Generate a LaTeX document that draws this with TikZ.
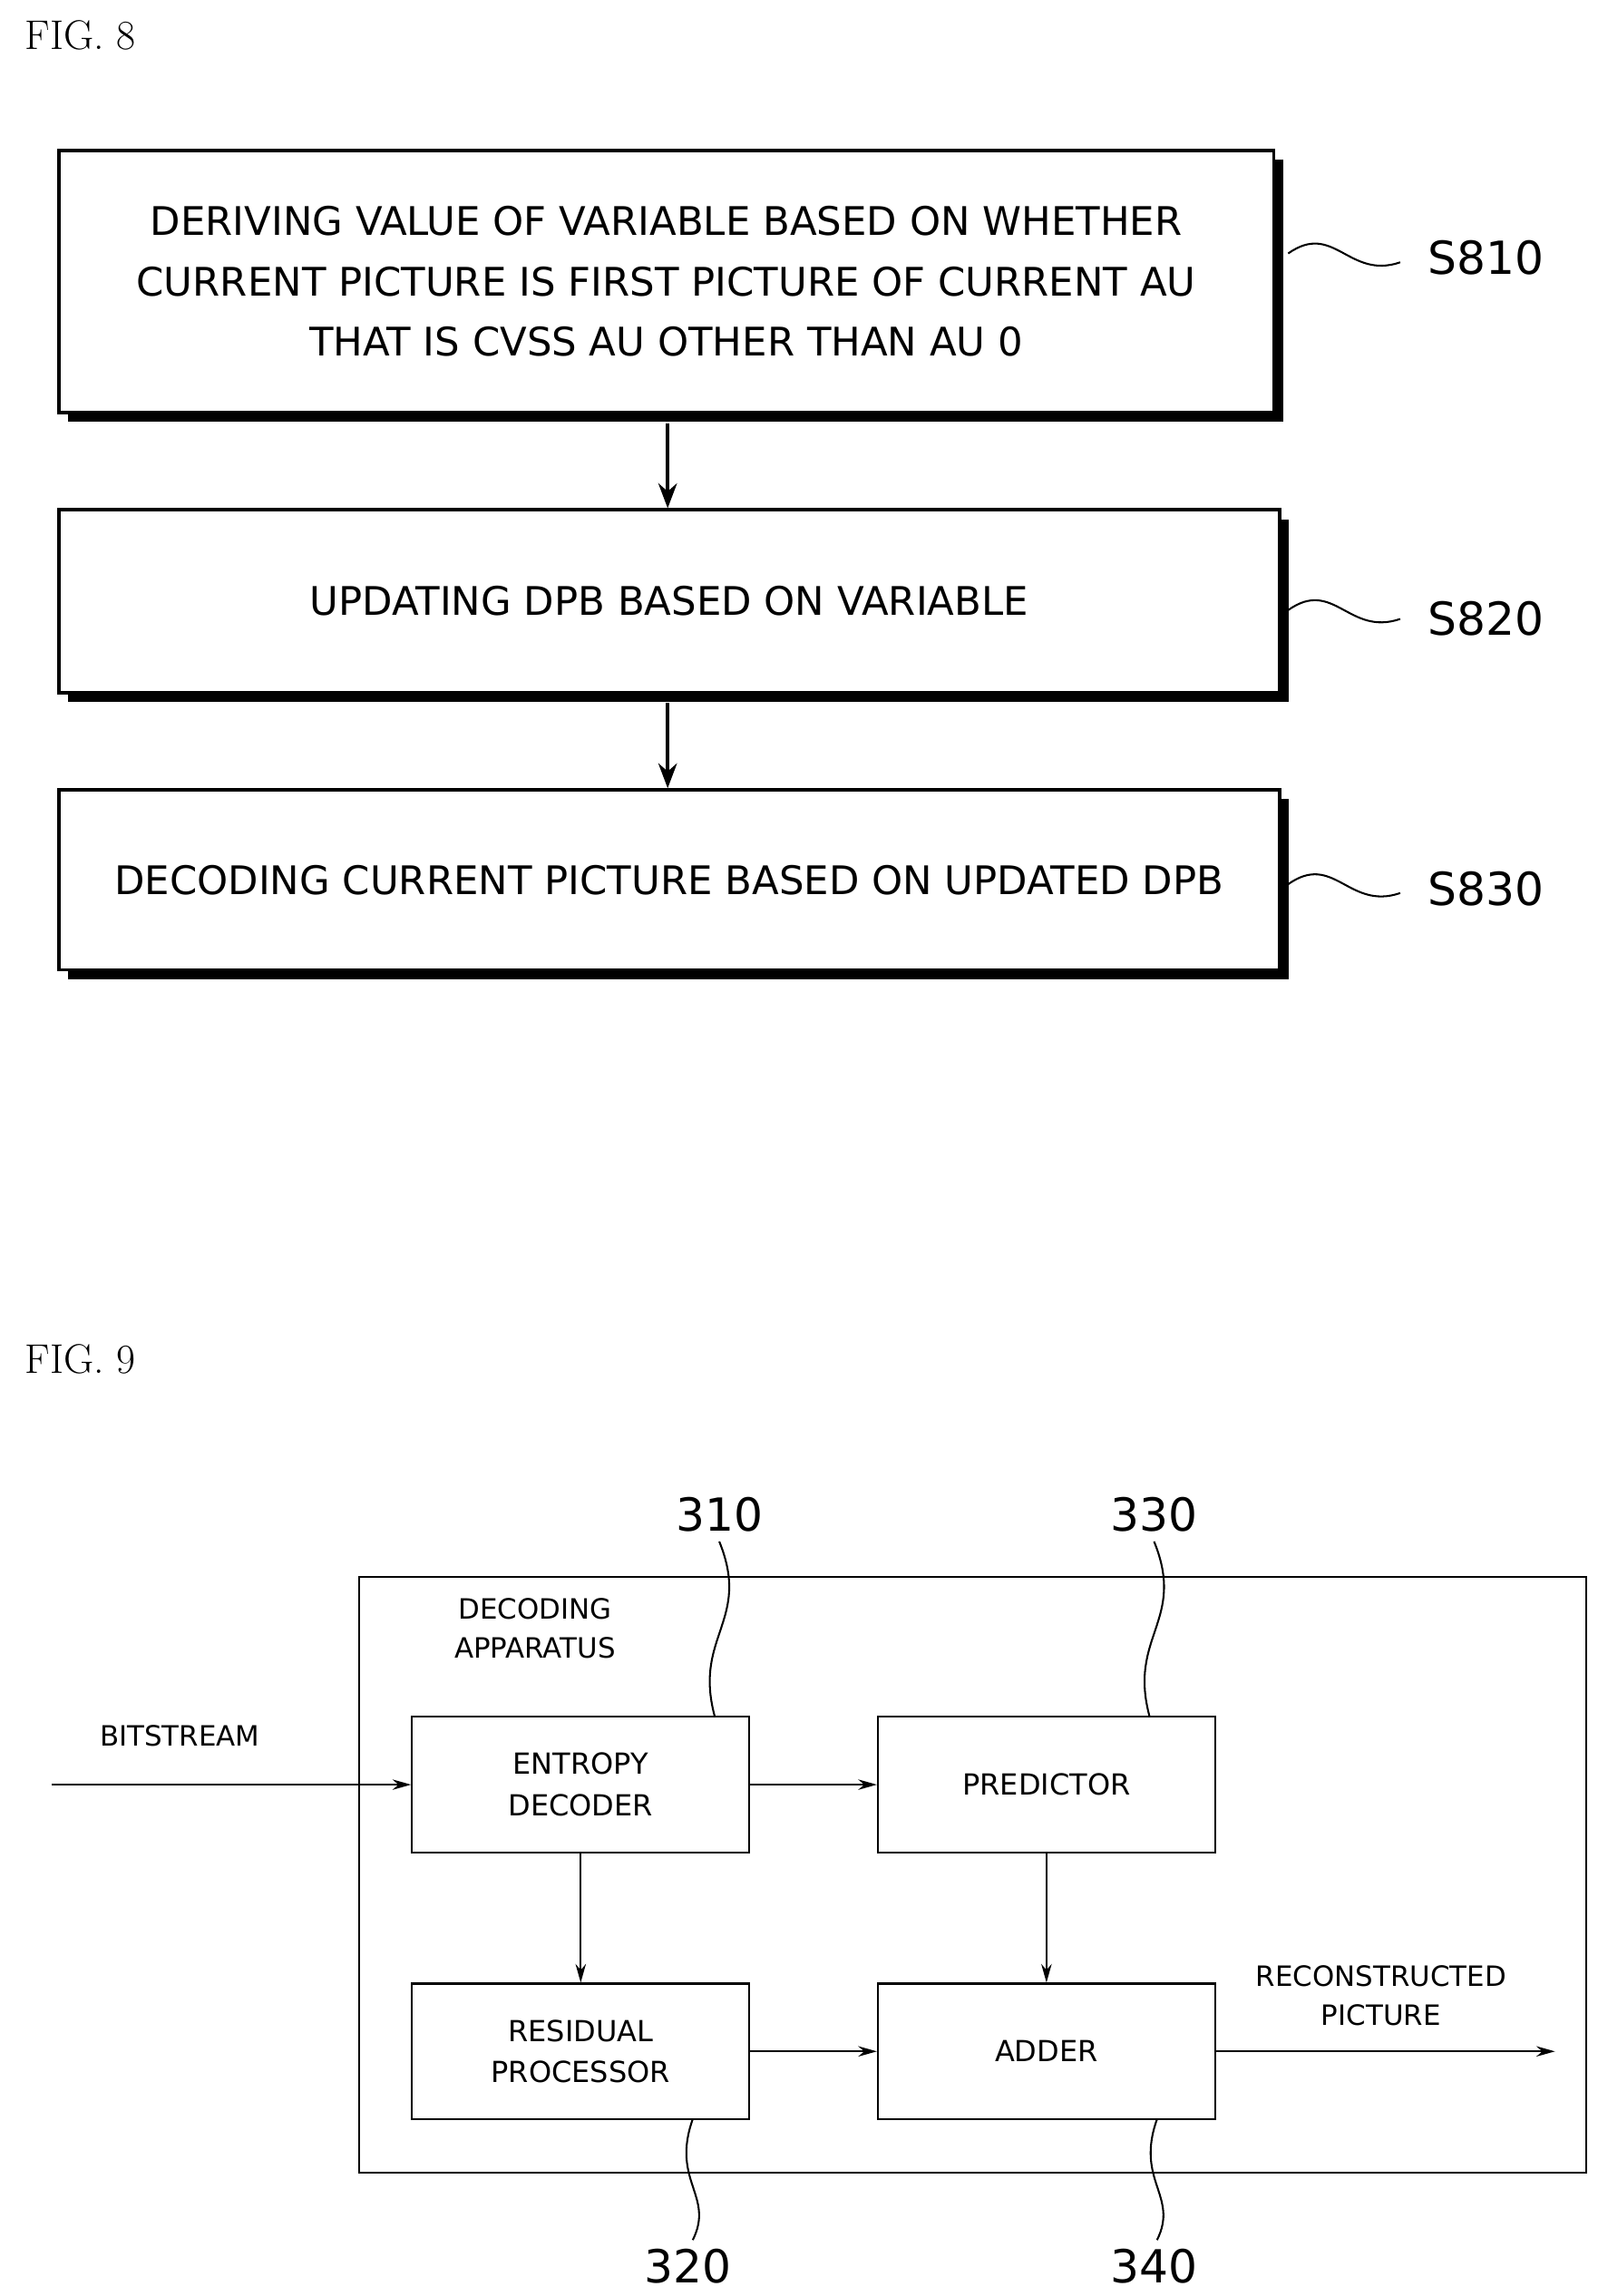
\documentclass[tikz,border=0pt]{standalone}
\usepackage{fontspec}
\setsansfont{DejaVu Sans}
\usetikzlibrary{shadows,arrows.meta}
\tikzset{
  stepbox/.style={draw,line width=1.6pt,fill=white,font=\sffamily\fontsize{19}{29}\selectfont,align=center,
    drop shadow={shadow xshift=0.16cm,shadow yshift=-0.16cm,fill=black,opacity=1}},
  unit/.style={draw,line width=0.9pt,fill=white,font=\sffamily\fontsize{14}{20}\selectfont,align=center,
    minimum width=5.72cm,minimum height=2.3cm},
  lbl/.style={font=\sffamily\fontsize{13.5}{19}\selectfont,align=center},
  ref/.style={font=\sffamily\fontsize{22}{22}\selectfont},
  wave/.style={line width=0.9pt},
  flow/.style={-{Stealth[length=12pt,width=9pt]},line width=1.6pt},
  sig/.style={-{Stealth[length=9pt,width=5pt]},line width=0.9pt}
}
\begin{document}
\begin{tikzpicture}[x=0.025cm,y=-0.025cm]
  \useasboundingbox (0,0) rectangle (1084,1558);
  % FIG. 8
  \node[anchor=west,font=\fontsize{20}{20}\selectfont] (f8) at (12,24) {FIG. 8};
  \node[stepbox,minimum width=20.6cm,minimum height=4.45cm] (s810) at (452,191)
    {DERIVING VALUE OF VARIABLE BASED ON WHETHER\\CURRENT PICTURE IS FIRST PICTURE OF CURRENT AU\\THAT IS CVSS AU OTHER THAN AU 0};
  \node[stepbox,minimum width=20.7cm,minimum height=3.1cm] (s820) at (454,408) {UPDATING DPB BASED ON VARIABLE};
  \node[stepbox,minimum width=20.7cm,minimum height=3.05cm] (s830) at (454,597) {DECODING CURRENT PICTURE BASED ON UPDATED DPB};
  \draw[flow] (s810.south -| 453,0) ++(0,6) -- (s820.north -| 453,0);
  \draw[flow] (s820.south -| 453,0) ++(0,6) -- (s830.north -| 453,0);
  \node[ref] (l810) at (1008,175) {S810};
  \node[ref] (l820) at (1008,420) {S820};
  \node[ref] (l830) at (1008,603) {S830};
  \draw[wave] (874,172) .. controls (905,150) and (915,190) .. (950,178);
  \draw[wave] (874,414) .. controls (905,392) and (915,432) .. (950,420);
  \draw[wave] (874,600) .. controls (905,578) and (915,618) .. (950,606);
  % FIG. 9
  \node[anchor=west,font=\fontsize{20}{20}\selectfont] (f9) at (12,922) {FIG. 9};
  \node[draw,line width=0.9pt,minimum width=20.8cm,minimum height=10.1cm] (dev) at (660,1272) {};
  \node[lbl] (devl) at (363,1105) {DECODING\\APPARATUS};
  \node[unit] (ent) at (394,1211) {ENTROPY\\DECODER};
  \node[unit] (pred) at (710,1211) {PREDICTOR};
  \node[unit] (res) at (394,1392) {RESIDUAL\\PROCESSOR};
  \node[unit] (add) at (710,1392) {ADDER};
  \coordinate (in) at (35,1211);
  \coordinate (out) at (1055,1392);
  \node[lbl] (bits) at (122,1178) {BITSTREAM};
  \node[lbl] (recl) at (937,1354) {RECONSTRUCTED\\PICTURE};
  \draw[sig] (in) -- (ent);
  \draw[sig] (ent) -- (pred);
  \draw[sig] (ent) -- (res);
  \draw[sig] (pred) -- (add);
  \draw[sig] (res) -- (add);
  \draw[sig] (add) -- (out);
  \node[ref] (n310) at (488,1028) {310};
  \node[ref] (n330) at (783,1028) {330};
  \node[ref] (n320) at (467,1538) {320};
  \node[ref] (n340) at (783,1538) {340};
  \draw[wave] (488,1046) .. controls (510,1100) and (470,1110) .. (485,1165);
  \draw[wave] (783,1046) .. controls (805,1100) and (765,1110) .. (780,1165);
  \draw[wave] (470,1438) .. controls (455,1480) and (485,1490) .. (470,1520);
  \draw[wave] (785,1438) .. controls (770,1480) and (800,1490) .. (785,1520);
\end{tikzpicture}
\end{document}
